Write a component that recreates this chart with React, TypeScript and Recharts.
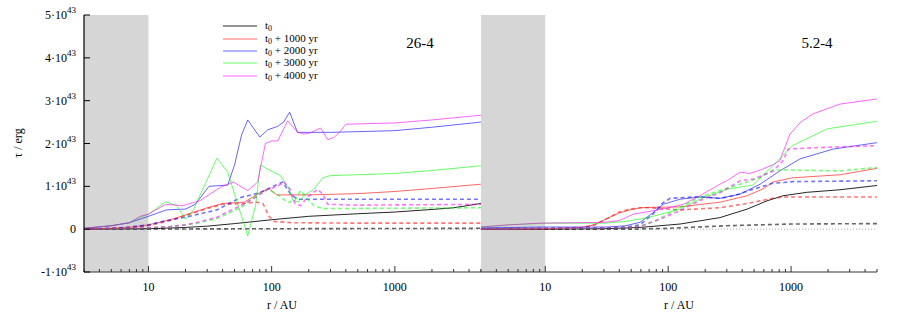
import React from 'react';
import { LineChart, Line, XAxis, YAxis, ReferenceArea, ReferenceLine } from 'recharts';

type Pt = [number, number];

// x = r / AU, y = tau in units of 1e43 erg
// panel "26-4"
const p26T0: Pt[] = [[3, 0], [10, 0.01], [20, 0.04], [30, 0.07], [50, 0.13], [100, 0.22], [200, 0.3], [500, 0.36], [1000, 0.4], [2000, 0.46], [3000, 0.5], [5000, 0.6]];
const p26T0d: Pt[] = [[3, 0], [100, 0.01], [5000, 0.02]];
const p26T1: Pt[] = [[3, 0], [5, 0.02], [7, 0.04], [10, 0.1], [15, 0.22], [20, 0.33], [30, 0.5], [40, 0.6], [60, 0.63], [80, 0.85], [95, 0.95], [110, 0.8], [200, 0.8], [500, 0.83], [1000, 0.88], [2000, 0.95], [5000, 1.05]];
const p26T1d: Pt[] = [[3, 0], [5, 0.02], [7, 0.04], [10, 0.08], [15, 0.2], [20, 0.32], [30, 0.48], [40, 0.58], [60, 0.6], [75, 0.63], [85, 0.6], [95, 0.3], [105, 0.18], [150, 0.15], [500, 0.14], [5000, 0.14]];
const p26T2: Pt[] = [[3, 0.02], [5, 0.08], [7, 0.15], [10, 0.3], [14, 0.45], [20, 0.47], [24, 0.58], [31, 1.0], [44, 1.03], [50, 1.5], [57, 2.2], [64, 2.55], [80, 2.15], [93, 2.32], [112, 2.4], [125, 2.5], [140, 2.73], [162, 2.26], [300, 2.26], [1000, 2.3], [2000, 2.38], [5000, 2.5]];
const p26T2d: Pt[] = [[3, 0], [5, 0.02], [7, 0.05], [10, 0.1], [14, 0.2], [20, 0.28], [36, 0.45], [56, 0.74], [80, 0.85], [103, 1.0], [123, 1.1], [142, 0.82], [162, 0.7], [500, 0.7], [5000, 0.7]];
const p26T3: Pt[] = [[3, 0.02], [5, 0.08], [7, 0.15], [8.6, 0.28], [10, 0.35], [13.8, 0.64], [17, 0.55], [20, 0.23], [23, 0.43], [36, 1.66], [44, 1.33], [64, -0.16], [74, 0.55], [81, 1.5], [93, 1.4], [118, 1.25], [135, 1.0], [150, 0.66], [165, 0.64], [182, 0.78], [220, 0.93], [260, 1.2], [300, 1.25], [1000, 1.3], [2000, 1.37], [5000, 1.48]];
const p26T3d: Pt[] = [[3, 0], [5, 0.01], [7, 0.02], [10, 0.03], [15, 0.06], [20, 0.1], [25, 0.14], [36, 0.25], [56, 0.5], [77, 0.8], [93, 0.93], [110, 0.82], [135, 0.62], [155, 0.68], [172, 0.9], [195, 0.7], [220, 0.55], [260, 0.48], [5000, 0.5]];
const p26T4: Pt[] = [[3, 0.02], [5, 0.08], [7, 0.15], [8.6, 0.3], [10, 0.35], [13.8, 0.58], [19, 0.55], [26, 0.66], [38.5, 0.98], [49, 1.1], [64, 0.9], [77, 1.1], [89, 2.0], [100, 2.06], [112, 2.06], [135, 2.53], [162, 2.27], [182, 2.22], [207, 2.25], [250, 2.36], [285, 2.09], [320, 2.14], [360, 2.28], [400, 2.45], [1000, 2.48], [2000, 2.55], [5000, 2.66]];
const p26T4d: Pt[] = [[3, 0], [5, 0.01], [7, 0.02], [10, 0.03], [15, 0.06], [20, 0.1], [25, 0.16], [36, 0.28], [56, 0.55], [75, 0.75], [93, 0.93], [112, 1.0], [125, 1.1], [140, 0.95], [155, 0.6], [172, 0.55], [195, 0.75], [236, 0.93], [260, 0.82], [285, 0.58], [500, 0.56], [5000, 0.58]];

// panel "5.2-4"
const p52T0: Pt[] = [[3, 0], [10, 0], [30, 0.01], [59, 0.04], [125, 0.12], [264, 0.27], [440, 0.47], [635, 0.66], [860, 0.78], [1340, 0.86], [2500, 0.92], [5000, 1.02]];
const p52T0d: Pt[] = [[3, 0], [50, 0], [100, 0.02], [300, 0.08], [1000, 0.12], [5000, 0.13]];
const p52T1: Pt[] = [[3, 0], [10, 0.01], [20, 0.04], [25, 0.1], [32, 0.25], [40, 0.38], [49, 0.45], [60, 0.5], [71, 0.51], [125, 0.52], [264, 0.63], [440, 0.78], [600, 0.95], [710, 1.1], [1030, 1.2], [2500, 1.27], [5000, 1.42]];
const p52T1d: Pt[] = [[3, 0], [10, 0.01], [20, 0.04], [25, 0.1], [32, 0.25], [40, 0.4], [49, 0.47], [60, 0.5], [71, 0.5], [125, 0.45], [264, 0.5], [440, 0.6], [710, 0.72], [860, 0.75], [5000, 0.75]];
const p52T2: Pt[] = [[3, 0.03], [10, 0.05], [32, 0.05], [45, 0.08], [59, 0.16], [75, 0.38], [91, 0.58], [125, 0.7], [181, 0.75], [264, 0.72], [385, 0.82], [560, 1.05], [810, 1.36], [1180, 1.64], [2200, 1.87], [5000, 2.02]];
const p52T2d: Pt[] = [[3, 0], [10, 0.02], [32, 0.03], [45, 0.05], [59, 0.1], [75, 0.35], [91, 0.62], [104, 0.72], [181, 0.76], [264, 0.72], [340, 0.78], [490, 0.93], [710, 1.07], [1030, 1.11], [5000, 1.13]];
const p52T3: Pt[] = [[3, 0.05], [5, 0.1], [10, 0.14], [30, 0.14], [45, 0.18], [71, 0.28], [125, 0.47], [181, 0.7], [300, 0.93], [490, 1.03], [710, 1.48], [1030, 1.95], [1960, 2.34], [5000, 2.52]];
const p52T3d: Pt[] = [[3, 0], [10, 0.02], [30, 0.03], [45, 0.04], [59, 0.07], [80, 0.2], [125, 0.51], [181, 0.75], [264, 0.9], [385, 1.05], [560, 1.2], [710, 1.38], [1030, 1.38], [2500, 1.36], [5000, 1.44]];
const p52T4: Pt[] = [[3, 0.05], [5, 0.1], [9, 0.14], [30, 0.16], [40, 0.2], [52, 0.35], [91, 0.47], [133, 0.58], [181, 0.78], [264, 1.05], [300, 1.13], [385, 1.33], [460, 1.3], [560, 1.38], [710, 1.5], [810, 1.6], [980, 2.22], [1200, 2.5], [1500, 2.69], [2500, 2.92], [5000, 3.04]];
const p52T4d: Pt[] = [[3, 0], [10, 0.02], [30, 0.03], [45, 0.04], [59, 0.06], [80, 0.2], [125, 0.43], [181, 0.67], [264, 0.85], [385, 1.13], [490, 1.17], [710, 1.35], [860, 1.6], [950, 1.87], [1500, 1.9], [5000, 1.95]];

const legendLabels = ['t0', 't0 + 1000 yr', 't0 + 2000 yr', 't0 + 3000 yr', 't0 + 4000 yr'];
const colors = ['#000000', '#ff0000', '#0000ff', '#00ff00', '#ff00ff'];
const majorX = [10, 100, 1000];
const xTicks = [3, 4, 5, 6, 7, 8, 9, 10, 20, 30, 40, 50, 60, 70, 80, 90, 100, 200, 300, 400, 500, 600, 700, 800, 900, 1000, 2000, 3000, 4000, 5000];
const yTicks = [-1, 0, 1, 2, 3, 4, 5];

const FONT = '"Liberation Serif", "DejaVu Serif", serif';
const H = 321;
const TOP = 15;
const BOTTOM = 272;

const rows = (pts: Pt[]) => pts.map(([r, tau]) => ({ r, tau }));

const BottomTick = (props: any) => {
  const { x, y, payload } = props;
  const major = majorX.includes(payload.value);
  return (
    <g>
      <line x1={x} x2={x} y1={y} y2={y - (major ? 6 : 3)} stroke="#333" />
      {major && (
        <text x={x} y={y + 19} textAnchor="middle" fontSize={12} fontFamily={FONT} fill="#000">
          {payload.value}
        </text>
      )}
    </g>
  );
};

const TopTick = (props: any) => {
  const { x, y, payload } = props;
  const major = majorX.includes(payload.value);
  return <line x1={x} x2={x} y1={y} y2={y + (major ? 6 : 3)} stroke="#333" />;
};

const LeftTick = (props: any) => {
  const { x, y, payload, showLabel } = props;
  const v = payload.value;
  return (
    <g>
      <line x1={x} x2={x + 6} y1={y} y2={y} stroke="#000" />
      {showLabel && (
        <text x={x - 8} y={y + 4} textAnchor="end" fontSize={12} fontFamily={FONT} fill="#000">
          {v === 0 ? (
            '0'
          ) : (
            <>
              <tspan>{v}·10</tspan>
              <tspan dy={-6} fontSize={9}>43</tspan>
            </>
          )}
        </text>
      )}
    </g>
  );
};

const RightTick = (props: any) => {
  const { x, y } = props;
  return <line x1={x - 6} x2={x} y1={y} y2={y} stroke="#333" />;
};

type Series = { pts: Pt[]; color: string; dashed: boolean };

const makeSeries = (list: Pt[][]): Series[] =>
  list.map((pts, i) => ({ pts, color: colors[Math.floor(i / 2)], dashed: i % 2 === 1 }));

const panel26 = makeSeries([p26T0, p26T0d, p26T1, p26T1d, p26T2, p26T2d, p26T3, p26T3d, p26T4, p26T4d]);
const panel52 = makeSeries([p52T0, p52T0d, p52T1, p52T1d, p52T2, p52T2d, p52T3, p52T3d, p52T4, p52T4d]);

function Panel({ series, left, width, ml, mr, yw, labels }: { series: Series[]; left: number; width: number; ml: number; mr: number; yw: number; labels: boolean }) {
  return (
    <div style={{ position: 'absolute', left, top: 0 }}>
      <LineChart width={width} height={H} margin={{ top: TOP, right: mr, bottom: H - BOTTOM - 30, left: ml }}>
        <XAxis xAxisId="b" type="number" dataKey="r" scale="log" domain={[3, 5000]} allowDataOverflow ticks={xTicks} interval={0} tickSize={0} tickMargin={0} height={30} tick={<BottomTick />} axisLine={{ stroke: '#333' }} tickLine={false} />
        <XAxis xAxisId="t" orientation="top" type="number" dataKey="r" scale="log" domain={[3, 5000]} allowDataOverflow ticks={xTicks} interval={0} tickSize={0} tickMargin={0} height={0} tick={<TopTick />} axisLine={{ stroke: '#333' }} tickLine={false} />
        <YAxis yAxisId="l" type="number" domain={[-1, 5]} allowDataOverflow ticks={yTicks} interval={0} tickSize={0} tickMargin={0} width={yw} tick={<LeftTick showLabel={labels} />} axisLine={{ stroke: '#000', strokeWidth: 1.2 }} tickLine={false} />
        <YAxis yAxisId="r" orientation="right" type="number" domain={[-1, 5]} allowDataOverflow ticks={yTicks} interval={0} tickSize={0} tickMargin={0} width={0} tick={<RightTick />} axisLine={{ stroke: '#777', strokeWidth: 1.5 }} tickLine={false} />
        <ReferenceArea xAxisId="b" yAxisId="l" x1={3} x2={10} y1={-1} y2={5} fill="#d6d6d6" fillOpacity={1} stroke="none" ifOverflow="hidden" />
        <ReferenceLine xAxisId="b" yAxisId="l" y={0} stroke="#aaa" strokeDasharray="1 2" />
        {series.map((s, i) => (
          <Line
            key={i}
            xAxisId="b"
            yAxisId="l"
            data={rows(s.pts)}
            dataKey="tau"
            type="linear"
            stroke={s.color}
            strokeOpacity={s.color === '#000000' ? (s.dashed ? 0.6 : 0.85) : s.dashed ? 0.55 : 0.6}
            strokeWidth={s.dashed ? 1.6 : 1}
            strokeDasharray={s.dashed ? '4 3' : undefined}
            dot={false}
            activeDot={false}
            isAnimationActive={false}
          />
        ))}
      </LineChart>
    </div>
  );
}

export default function App() {
  const legendY = [26, 39, 51, 63, 76];
  return (
    <div style={{ position: 'absolute', left: 0, top: 0, width: 915, height: H, background: '#fff', fontFamily: FONT }}>
      <Panel series={panel26} left={0} width={491} ml={0} mr={10} yw={84} labels />
      <Panel series={panel52} left={471} width={416} ml={10} mr={10} yw={0} labels={false} />
      <svg width={915} height={H} style={{ position: 'absolute', left: 0, top: 0, pointerEvents: 'none' }}>
        {legendLabels.map((lab, i) => (
          <g key={lab}>
            <line x1={223} x2={257} y1={legendY[i]} y2={legendY[i]} stroke={colors[i]} strokeOpacity={i === 0 ? 0.85 : 0.6} />
            <text x={265} y={legendY[i] + 3} fontSize={11} fontFamily={FONT} fill="#000">
              <tspan>t</tspan>
              <tspan dy={2} fontSize={8}>0</tspan>
              <tspan dy={-2}>{lab.slice(2)}</tspan>
            </text>
          </g>
        ))}
        <text x={420} y={48} textAnchor="middle" fontSize={15} fontFamily={FONT} fill="#000">26-4</text>
        <text x={817} y={48} textAnchor="middle" fontSize={15} fontFamily={FONT} fill="#000">5.2-4</text>
        <text x={282} y={309} textAnchor="middle" fontSize={12} fontFamily={FONT} fill="#000">r / AU</text>
        <text x={679} y={309} textAnchor="middle" fontSize={12} fontFamily={FONT} fill="#000">r / AU</text>
        <text x={0} y={0} transform="translate(22,143) rotate(-90)" textAnchor="middle" fontSize={12} fontFamily={FONT} fill="#000">τ / erg</text>
      </svg>
    </div>
  );
}
